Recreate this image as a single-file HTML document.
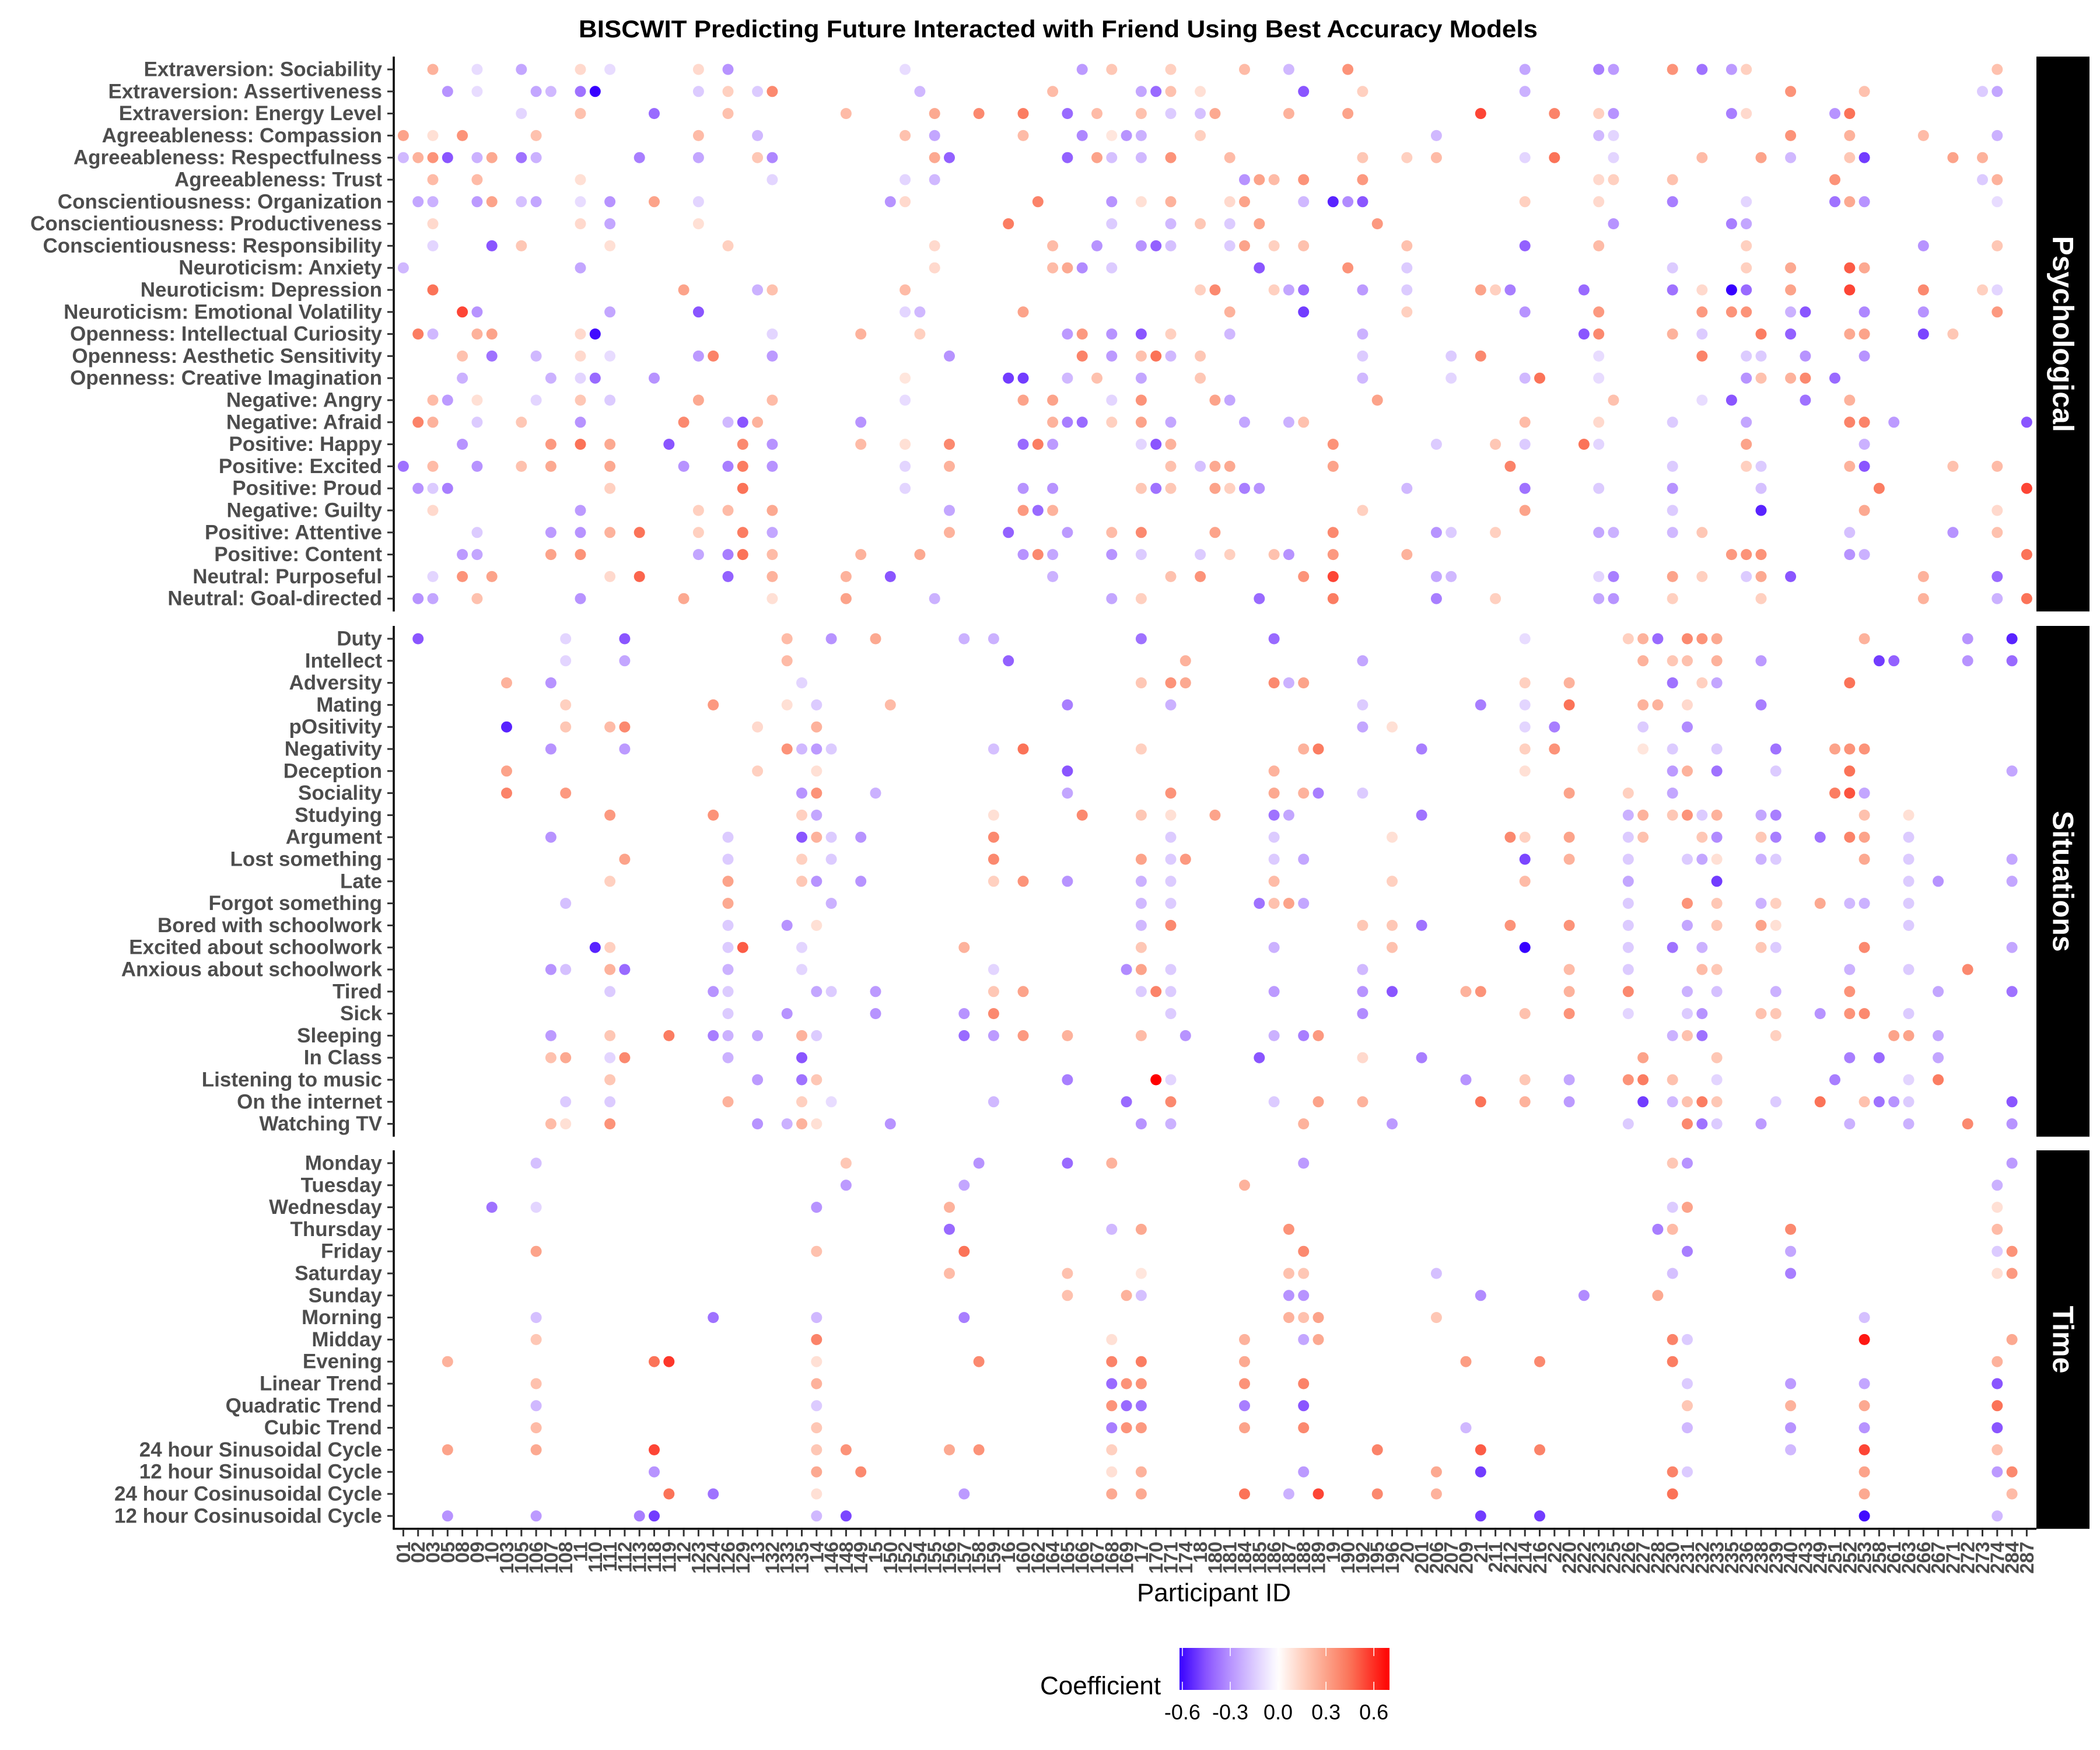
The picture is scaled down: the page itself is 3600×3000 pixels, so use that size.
<!DOCTYPE html>
<html>
<head>
<meta charset="utf-8">
<style>
html,body{margin:0;padding:0;background:#fff;}
svg{display:block;}
text{font-family:"Liberation Sans",Arial,sans-serif;}
</style>
</head>
<body>
<svg id="chart" xmlns="http://www.w3.org/2000/svg" width="3600" height="3000" viewBox="0 0 3600 3000">
  <rect x="0" y="0" width="3600" height="3000" fill="#ffffff"/>
  <text x="1814" y="64" text-anchor="middle" font-size="42" font-weight="bold" fill="#000" textLength="1644" lengthAdjust="spacingAndGlyphs">BISCWIT Predicting Future Interacted with Friend Using Best Accuracy Models</text>
  <g id="panels"></g>
  <g id="xaxis"></g>
  <text x="2081" y="2745" text-anchor="middle" font-size="44" fill="#000">Participant ID</text>
  <g id="legend"></g>
</svg>
<script>
const participantIds = ["01","02","03","05","08","09","10","103","105","106","107","108","11","110","111","112","113","118","119","12","123","124","126","129","13","132","133","135","14","146","148","149","15","150","152","154","155","156","157","158","159","16","160","162","164","165","166","167","168","169","17","170","171","174","18","180","181","184","185","186","187","188","189","19","190","192","195","196","20","201","206","207","209","21","211","212","214","216","22","220","222","223","225","226","227","228","230","231","232","233","235","236","238","239","240","243","249","251","252","253","258","261","263","266","267","271","272","273","274","284","287"];

const psychLabels = ["Extraversion: Sociability","Extraversion: Assertiveness","Extraversion: Energy Level","Agreeableness: Compassion","Agreeableness: Respectfulness","Agreeableness: Trust","Conscientiousness: Organization","Conscientiousness: Productiveness","Conscientiousness: Responsibility","Neuroticism: Anxiety","Neuroticism: Depression","Neuroticism: Emotional Volatility","Openness: Intellectual Curiosity","Openness: Aesthetic Sensitivity","Openness: Creative Imagination","Negative: Angry","Negative: Afraid","Positive: Happy","Positive: Excited","Positive: Proud","Negative: Guilty","Positive: Attentive","Positive: Content","Neutral: Purposeful","Neutral: Goal-directed"];

const psychPoints = [
[[2,.25],[5,-.1],[8,-.25],[12,.12],[14,-.1],[20,.12],[22,-.3],[34,-.1],[46,-.28],[48,.18],[52,.15],[57,.22],[60,-.2],[64,.35],[76,-.25],[81,-.35],[82,-.28],[86,.35],[88,-.38],[90,-.28],[91,.15],[108,.2]],
[[3,-.3],[5,-.1],[9,-.25],[10,-.2],[12,-.38],[13,-.65],[20,-.15],[22,.15],[24,-.15],[25,.38],[35,-.2],[44,.22],[50,-.25],[51,-.4],[52,.2],[54,.1],[61,-.45],[65,.15],[76,-.22],[94,.35],[99,.2],[107,-.15],[108,-.25]],
[[8,-.12],[12,.2],[17,-.4],[22,.2],[30,.22],[36,.28],[39,.38],[42,.42],[45,-.4],[47,.22],[50,.2],[52,-.15],[54,-.18],[55,.28],[60,.25],[64,.3],[73,.55],[78,.4],[81,.15],[82,-.3],[90,-.35],[91,.12],[97,-.3],[98,.45]],
[[0,.3],[2,.1],[4,.35],[9,.2],[20,.22],[24,-.2],[34,.2],[36,-.25],[42,.22],[46,-.33],[48,.08],[49,-.3],[50,-.22],[54,.15],[70,-.2],[81,-.2],[82,-.12],[94,.35],[98,.25],[103,.22],[108,-.22]],
[[0,-.2],[1,.25],[2,.35],[3,-.45],[5,-.22],[6,.28],[8,-.38],[9,-.22],[16,-.35],[20,-.25],[24,.18],[25,-.33],[36,.28],[37,-.42],[45,-.42],[47,.3],[48,-.18],[50,-.2],[52,.35],[56,.22],[65,.18],[68,.15],[70,.22],[76,-.12],[78,.45],[82,-.12],[88,.22],[92,.3],[94,-.2],[98,.18],[99,-.5],[105,.3],[107,.25]],
[[2,.22],[5,.22],[12,.1],[25,-.12],[34,-.12],[36,-.2],[57,-.3],[58,.3],[59,.22],[61,.35],[65,.33],[81,.12],[82,.15],[86,.2],[97,.35],[107,-.15],[108,.25]],
[[1,-.25],[2,-.22],[5,-.28],[6,.3],[8,-.18],[9,-.25],[12,-.1],[14,-.3],[17,.3],[20,-.12],[33,-.3],[34,.12],[43,.4],[48,-.3],[50,.1],[52,.25],[56,.12],[57,.3],[61,-.2],[63,-.55],[64,-.32],[65,-.45],[76,.15],[81,.12],[86,-.35],[91,-.12],[97,-.38],[98,.28],[99,-.3],[108,-.1]],
[[2,.12],[12,.12],[14,-.25],[20,.1],[41,.42],[48,-.15],[52,-.2],[54,.18],[56,-.15],[58,.3],[66,.33],[82,-.3],[90,-.35],[91,-.25]],
[[2,-.12],[6,-.45],[8,.18],[14,.1],[22,.15],[36,.12],[44,.22],[47,-.3],[50,-.3],[51,-.42],[52,-.18],[56,-.15],[57,.3],[59,.15],[61,.2],[68,.2],[76,-.42],[81,.22],[91,.15],[103,-.3],[108,.18]],
[[0,-.2],[12,-.25],[36,.12],[44,.22],[45,.28],[46,-.32],[48,-.15],[58,-.45],[64,.35],[68,-.15],[86,-.15],[91,.15],[94,.28],[98,.5],[99,.28]],
[[2,.45],[19,.3],[24,-.22],[25,.2],[34,.22],[54,.15],[55,.38],[59,.15],[60,-.25],[61,-.4],[65,-.28],[68,-.15],[73,.3],[74,.15],[75,-.35],[80,-.4],[86,-.38],[88,.12],[90,-.62],[91,-.4],[94,.3],[98,.55],[103,.38],[107,.15],[108,-.12]],
[[4,.55],[5,-.3],[14,-.25],[20,-.45],[34,-.12],[35,-.2],[42,.3],[56,.25],[61,-.5],[68,.15],[76,-.3],[81,.33],[88,.33],[90,.35],[91,.35],[94,-.22],[95,-.45],[99,-.33],[103,-.3],[108,.33]],
[[1,.42],[2,-.2],[5,.25],[6,.3],[12,.12],[13,-.6],[25,-.12],[31,.25],[35,.15],[45,-.28],[46,.33],[48,-.3],[50,-.45],[52,.15],[56,-.2],[65,-.22],[80,-.45],[81,.38],[86,.25],[88,-.15],[92,.42],[94,-.42],[98,.28],[99,.3],[103,-.48],[105,.18]],
[[4,.2],[6,-.38],[9,-.2],[12,.12],[14,-.1],[20,-.28],[21,.4],[25,-.28],[37,-.3],[46,.4],[48,-.28],[50,.2],[51,.45],[52,-.2],[54,.18],[65,-.15],[71,-.15],[73,.38],[81,-.1],[88,.4],[91,-.15],[92,-.15],[95,-.3],[99,-.3]],
[[4,-.22],[10,-.22],[12,-.12],[13,-.4],[17,-.3],[34,.08],[41,-.5],[42,-.5],[45,-.2],[47,.2],[50,-.25],[54,.18],[65,-.2],[71,-.12],[76,-.2],[77,.45],[81,-.1],[91,-.3],[92,.2],[94,.25],[95,.38],[97,-.4]],
[[2,.22],[3,-.28],[5,.1],[9,-.12],[12,.18],[14,-.15],[20,.28],[25,.22],[34,-.1],[42,.3],[44,.3],[48,-.12],[50,.35],[55,.3],[56,-.25],[66,.3],[82,.2],[88,-.1],[90,-.45],[95,-.38],[98,.25]],
[[1,.4],[2,.25],[5,-.15],[8,.18],[12,-.3],[19,.38],[22,-.2],[23,-.45],[24,.25],[31,-.3],[44,.25],[45,-.35],[46,-.4],[48,.15],[50,.3],[52,-.25],[57,-.25],[60,-.22],[61,.2],[76,.22],[81,.12],[86,-.15],[91,-.25],[98,.4],[99,.4],[101,-.28],[110,-.45]],
[[4,-.3],[10,.33],[12,.45],[14,.28],[18,-.45],[23,.38],[25,-.3],[31,.22],[34,.1],[37,.38],[42,-.4],[43,.42],[44,-.28],[50,-.12],[51,-.45],[52,.25],[63,.35],[70,-.15],[74,.18],[76,-.15],[80,.45],[81,-.12],[91,.3],[99,-.22]],
[[0,-.38],[2,.22],[5,-.3],[8,.2],[10,.28],[14,.28],[19,-.3],[22,-.35],[23,.42],[25,-.3],[34,-.12],[37,.25],[52,.2],[54,-.18],[55,.28],[56,.28],[63,.3],[75,.4],[86,-.15],[91,.15],[92,-.15],[98,.25],[99,-.45],[105,.2],[108,.22]],
[[1,-.3],[2,-.15],[3,-.35],[14,.15],[23,.45],[34,-.12],[42,-.3],[44,-.3],[50,.18],[51,-.38],[52,.18],[55,.3],[56,.15],[57,-.35],[58,-.3],[68,-.2],[76,-.38],[81,-.15],[86,-.3],[92,-.18],[100,.42],[110,.55]],
[[2,.12],[12,-.28],[20,.15],[22,.22],[25,.28],[37,-.25],[42,.33],[43,-.4],[44,.25],[65,.15],[76,.3],[86,-.15],[92,-.55],[99,.28],[108,.12]],
[[5,-.15],[10,-.28],[12,-.3],[14,.25],[16,.45],[20,.15],[23,.42],[25,-.25],[37,.25],[41,-.42],[45,-.28],[48,.22],[50,.38],[55,.3],[63,.38],[70,-.3],[71,-.15],[74,.15],[81,-.25],[82,-.22],[86,-.2],[88,.18],[98,-.18],[105,-.3],[108,.2]],
[[4,-.28],[5,-.25],[10,.3],[12,.35],[20,-.25],[22,-.35],[23,.45],[25,.22],[31,.25],[35,.28],[42,-.3],[43,.38],[44,-.25],[48,-.3],[50,-.15],[54,-.15],[56,.15],[59,.2],[60,-.3],[63,.33],[68,.25],[90,.33],[91,.35],[92,.35],[98,-.3],[99,-.22],[110,.45]],
[[2,-.12],[4,.35],[6,.3],[14,.12],[16,.48],[22,-.42],[25,.25],[30,.25],[33,-.45],[44,-.22],[52,.2],[54,.35],[61,.35],[63,.55],[70,-.25],[71,-.2],[81,-.12],[82,-.35],[86,.3],[88,.15],[91,-.15],[92,.28],[94,-.45],[103,.25],[108,-.4]],
[[1,-.3],[2,-.25],[5,.2],[12,-.3],[19,.28],[25,.1],[30,.3],[36,-.22],[48,-.25],[50,.15],[58,-.4],[63,.42],[70,-.35],[74,.15],[81,-.25],[82,-.3],[86,.15],[92,.15],[103,.25],[108,-.22],[110,.45]]
];

const situationLabels = ["Duty","Intellect","Adversity","Mating","pOsitivity","Negativity","Deception","Sociality","Studying","Argument","Lost something","Late","Forgot something","Bored with schoolwork","Excited about schoolwork","Anxious about schoolwork","Tired","Sick","Sleeping","In Class","Listening to music","On the internet","Watching TV"];

const situationPoints = [
[[1,-.45],[11,-.12],[15,-.45],[26,.22],[29,-.3],[32,.28],[38,-.22],[40,-.22],[50,-.38],[59,-.4],[76,-.1],[83,.15],[84,.25],[85,-.4],[87,.38],[88,.35],[89,.28],[99,.25],[106,-.3],[109,-.55]],
[[11,-.12],[15,-.25],[26,.22],[41,-.42],[53,.25],[65,-.25],[84,.25],[86,.18],[87,.2],[89,.25],[92,-.28],[100,-.5],[101,-.42],[106,-.3],[109,-.4]],
[[7,.25],[10,-.3],[27,-.12],[50,.18],[52,.35],[53,.28],[59,.38],[60,-.22],[61,.3],[76,.15],[79,.25],[86,-.38],[88,.15],[89,-.25],[98,.45]],
[[11,.15],[21,.33],[26,.1],[28,-.15],[33,.22],[45,-.35],[52,-.22],[65,-.15],[73,-.35],[76,-.12],[79,.45],[84,.25],[85,.25],[87,.12],[92,-.35]],
[[7,-.55],[11,.18],[14,.22],[15,.38],[24,.12],[28,.25],[65,-.25],[67,.1],[76,-.12],[78,-.35],[84,-.15],[87,-.32]],
[[10,-.3],[15,-.28],[26,.35],[27,-.2],[28,-.28],[29,-.15],[40,-.18],[42,.45],[50,.15],[61,.25],[62,.42],[69,-.35],[76,.15],[78,.35],[84,.08],[86,-.15],[89,-.15],[93,-.38],[97,.3],[98,.35],[99,.35]],
[[7,.3],[24,.15],[28,.1],[45,-.45],[59,.25],[76,.1],[86,-.28],[87,.25],[89,-.38],[93,-.15],[98,.45],[109,-.25]],
[[7,.4],[11,.33],[27,-.3],[28,.35],[32,-.22],[45,-.25],[52,.35],[59,.28],[61,.25],[62,-.35],[65,-.15],[79,.3],[83,.15],[86,-.25],[97,.42],[98,.52],[99,-.25]],
[[14,.33],[21,.35],[27,.15],[28,-.25],[40,.1],[46,.38],[50,.18],[52,.1],[55,.3],[59,-.38],[60,-.25],[69,-.38],[83,-.22],[84,.25],[86,.18],[87,.35],[88,-.15],[89,.25],[92,-.25],[93,-.35],[99,.2],[102,.1]],
[[10,-.3],[22,-.15],[27,-.45],[28,.25],[29,-.15],[31,-.3],[40,.38],[52,-.15],[59,-.15],[67,.1],[75,.38],[76,.15],[79,.3],[83,-.15],[84,.2],[88,.18],[89,-.32],[92,.18],[93,-.35],[96,-.38],[98,.4],[99,.3],[102,-.15]],
[[15,.3],[22,-.15],[27,.15],[29,-.15],[40,.38],[50,.3],[52,-.15],[53,.33],[59,-.15],[61,-.25],[76,-.48],[79,.25],[83,-.15],[87,-.15],[88,-.25],[89,.1],[92,-.22],[93,-.15],[99,.28],[102,-.15],[109,-.25]],
[[14,.15],[22,.3],[27,.18],[28,-.3],[31,-.3],[40,.15],[42,.35],[45,-.3],[50,-.22],[52,-.15],[59,.22],[67,.15],[76,.22],[83,-.25],[89,-.5],[102,-.15],[104,-.3],[109,-.25]],
[[11,-.18],[22,.28],[29,-.22],[50,-.2],[52,-.15],[58,-.38],[59,.2],[60,.3],[61,-.25],[83,-.15],[87,.35],[89,.18],[92,-.22],[93,.15],[96,.28],[98,-.2],[99,-.22],[102,-.15]],
[[22,-.15],[26,-.3],[28,.1],[50,-.2],[52,.38],[65,.18],[67,.18],[69,-.38],[75,.35],[79,.35],[83,-.15],[87,-.25],[89,.18],[92,.3],[93,.1],[102,-.15]],
[[13,-.55],[14,.15],[22,-.15],[23,.5],[27,-.12],[38,.25],[50,.18],[59,-.22],[67,.2],[76,-.65],[83,-.15],[86,-.38],[88,-.22],[92,.18],[93,-.15],[99,.38],[109,-.25]],
[[10,-.3],[11,-.18],[14,.25],[15,-.4],[22,-.22],[27,-.12],[40,-.12],[49,-.32],[50,.3],[52,-.15],[65,-.2],[79,.22],[83,-.15],[88,.22],[89,.18],[98,-.22],[102,-.15],[106,.38]],
[[14,-.15],[21,-.3],[22,-.15],[28,-.25],[29,-.15],[32,-.28],[40,.18],[42,.3],[50,-.15],[51,.4],[52,-.15],[59,-.28],[65,-.3],[67,-.45],[72,.25],[73,.35],[79,.25],[83,.38],[87,-.22],[89,-.18],[93,-.22],[98,.35],[104,-.25],[109,-.38]],
[[22,-.15],[26,-.3],[32,-.3],[38,-.3],[40,.38],[52,-.15],[65,-.32],[76,.2],[79,.35],[83,-.12],[87,-.15],[88,-.3],[92,.2],[93,.18],[96,-.3],[98,.35],[99,.38],[102,-.15]],
[[10,-.28],[14,.18],[18,.42],[21,-.35],[22,-.22],[24,-.25],[27,.25],[28,-.15],[38,-.4],[40,-.28],[42,.33],[45,.25],[50,.22],[53,-.3],[59,-.22],[61,-.35],[62,.33],[86,-.22],[87,.2],[88,-.38],[93,.15],[101,.3],[102,.3],[104,-.25]],
[[10,.2],[11,.28],[14,-.12],[15,.38],[22,-.22],[27,-.45],[58,-.45],[65,.12],[69,-.35],[84,.3],[89,.18],[98,-.35],[100,-.4],[104,-.25]],
[[14,.18],[24,-.28],[27,-.38],[28,.18],[45,-.35],[51,.72],[52,-.12],[72,-.3],[76,.18],[79,-.25],[83,.35],[84,.42],[86,.2],[89,-.12],[97,-.35],[102,-.12],[104,.42]],
[[11,-.15],[14,-.15],[22,.25],[27,.15],[29,-.1],[40,-.2],[49,-.4],[52,.38],[59,-.15],[62,.3],[65,.25],[73,.45],[76,.25],[79,-.28],[84,-.5],[86,-.2],[87,.2],[88,.42],[89,.18],[93,-.15],[96,.45],[99,.2],[100,-.38],[101,-.3],[102,-.15],[109,-.45]],
[[10,.22],[11,.1],[14,.35],[24,-.3],[26,-.22],[27,.25],[28,.1],[33,-.3],[50,-.3],[52,-.22],[61,.25],[67,-.28],[83,-.15],[87,.38],[88,-.38],[89,-.15],[92,-.28],[98,-.22],[102,-.22],[106,.38],[109,-.3]]
];

const timeLabels = ["Monday","Tuesday","Wednesday","Thursday","Friday","Saturday","Sunday","Morning","Midday","Evening","Linear Trend","Quadratic Trend","Cubic Trend","24 hour Sinusoidal Cycle","12 hour Sinusoidal Cycle","24 hour Cosinusoidal Cycle","12 hour Cosinusoidal Cycle"];

const timePoints = [
[[9,-.18],[30,.18],[39,-.3],[45,-.4],[48,.25],[61,-.28],[86,.18],[87,-.3],[109,-.28]],
[[30,-.28],[38,-.25],[57,.25],[108,-.22]],
[[6,-.38],[9,-.12],[28,-.3],[37,.25],[86,-.15],[87,.3],[108,.1]],
[[37,-.4],[48,-.2],[50,.28],[60,.35],[85,-.35],[86,.22],[94,.38],[108,.22]],
[[9,.3],[28,.2],[38,.45],[61,.38],[87,-.35],[94,-.25],[108,-.15],[109,.35]],
[[37,.22],[45,.2],[50,.08],[60,.2],[61,.18],[70,-.18],[86,-.18],[94,-.35],[108,.1],[109,.33]],
[[45,.2],[49,.25],[50,-.18],[60,-.3],[61,-.3],[73,-.32],[80,-.32],[85,.28]],
[[9,-.18],[21,-.38],[28,-.2],[38,-.35],[60,.25],[61,.2],[62,.3],[70,.18],[99,-.18]],
[[9,.18],[28,.4],[48,.1],[57,.25],[61,-.25],[62,.28],[86,.4],[87,-.15],[99,.65],[109,.28]],
[[3,.25],[17,.45],[18,.58],[28,.1],[39,.38],[48,.4],[50,.42],[57,.28],[72,.32],[77,.38],[86,.42],[108,.25]],
[[9,.2],[28,.25],[48,-.4],[49,.35],[50,.35],[57,.35],[61,.4],[87,-.15],[94,-.28],[99,-.25],[108,-.45]],
[[9,-.2],[28,-.15],[48,.35],[49,-.4],[50,-.38],[57,-.35],[61,-.45],[87,.18],[94,.25],[99,.28],[108,.45]],
[[9,.22],[28,.18],[48,-.35],[49,.35],[50,.33],[57,.3],[61,.38],[72,-.2],[87,-.2],[94,-.3],[99,-.3],[108,-.45]],
[[3,.3],[9,.28],[17,.55],[28,.18],[30,.35],[37,.28],[39,.35],[48,.15],[66,.4],[73,.5],[77,.4],[94,-.2],[99,.55],[108,.2]],
[[17,-.3],[28,.28],[31,.38],[48,.1],[50,.25],[61,-.28],[70,.28],[73,-.5],[86,.4],[87,-.15],[99,.3],[108,-.28],[109,.38]],
[[18,.45],[21,-.38],[28,.1],[38,-.28],[48,.28],[50,.28],[57,.45],[60,-.22],[62,.55],[66,.38],[70,.25],[86,.45],[99,.28],[109,.22]],
[[3,-.3],[9,-.28],[16,-.35],[17,-.5],[28,-.2],[30,-.48],[73,-.5],[77,-.5],[99,-.6],[108,-.2]]
];

const legendTicks = [-0.6,-0.3,0.0,0.3,0.6];
const legendTickLabels = ["-0.6","-0.3","0.0","0.3","0.6"];

const NS = "http://www.w3.org/2000/svg";
const X0 = 691.4, XSTEP = 25.3, AXIS_X = 675, PLOT_R = 3491, ROWSTEP = 37.8, PAD = 22;
function xScale(c){ return X0 + XSTEP * c; }

const stops = [[-0.62,[55,0,255]],[-0.45,[138,85,255]],[-0.3,[183,147,255]],[-0.15,[220,203,255]],[0,[255,255,255]],[0.15,[255,208,192]],[0.3,[252,163,138]],[0.45,[251,115,88]],[0.7,[255,0,0]]];
function colorScale(v){
  if(v<=stops[0][0]) return "rgb("+stops[0][1].join(",")+")";
  for(let i=1;i<stops.length;i++){
    if(v<=stops[i][0]){
      const a=stops[i-1], b=stops[i], t=(v-a[0])/(b[0]-a[0]);
      const c=a[1].map((x,k)=>Math.round(x+(b[1][k]-x)*t));
      return "rgb("+c.join(",")+")";
    }
  }
  return "rgb(255,0,0)";
}
function mk(tag, attrs){ const e=document.createElementNS(NS,tag); for(const k in attrs) e.setAttribute(k, attrs[k]); return e; }

const panelsG = document.getElementById("panels");
const panels = [
  {name:"psychological", title:"Psychological", top:97, labels:psychLabels, points:psychPoints},
  {name:"situations", title:"Situations", top:1073, labels:situationLabels, points:situationPoints},
  {name:"time", title:"Time", top:1972, labels:timeLabels, points:timePoints}
];
let lastBottom = 0;
panels.forEach(p=>{
  const g = mk("g",{});
  
  
  panelsG.appendChild(g);
  const n = p.labels.length;
  const bottom = p.top + PAD*2 + (n-1)*ROWSTEP;
  lastBottom = bottom;
  const yRow = r => p.top + PAD + r*ROWSTEP;
  const axis = mk("line",{x1:AXIS_X,y1:p.top,x2:AXIS_X,y2:bottom,stroke:"#000","stroke-width":3.5});
  
  
  g.appendChild(axis);
  p.labels.forEach((lab,r)=>{
    const y = yRow(r);
    const tk = mk("line",{x1:664,y1:y,x2:AXIS_X,y2:y,stroke:"#333","stroke-width":3});
    
    
    g.appendChild(tk);
    const t = mk("text",{x:655,y:y,"text-anchor":"end","dominant-baseline":"central","font-size":35,"font-weight":"bold",fill:"#4D4D4D"});
    t.textContent = lab;
    
    
    g.appendChild(t);
  });
  p.points.forEach((row,r)=>{
    row.forEach(pt=>{
      const c = mk("circle",{cx:xScale(pt[0]),cy:yRow(r),r:9.5,fill:colorScale(pt[1])});
      
      
      g.appendChild(c);
    });
  });
  const strip = mk("rect",{x:PLOT_R,y:p.top,width:91,height:bottom-p.top,fill:"#000"});
  
  
  g.appendChild(strip);
  const cx = PLOT_R+45.5, cy=(p.top+bottom)/2;
  const st = mk("text",{x:cx,y:cy,"text-anchor":"middle","dominant-baseline":"central","font-size":50,"font-weight":"bold",fill:"#fff",transform:"rotate(90 "+cx+" "+cy+")"});
  st.textContent = p.title;
  
  
  g.appendChild(st);
});

const xg = document.getElementById("xaxis");
const axisY = lastBottom;
const xl = mk("line",{x1:AXIS_X-1.75,y1:axisY,x2:PLOT_R,y2:axisY,stroke:"#000","stroke-width":3.5});


xg.appendChild(xl);
participantIds.forEach((id,i)=>{
  const x = xScale(i);
  const tk = mk("line",{x1:x,y1:axisY,x2:x,y2:axisY+13,stroke:"#333","stroke-width":3});
  
  
  xg.appendChild(tk);
  const ly = axisY + 22;
  const t = mk("text",{x:x,y:ly,"text-anchor":"end","dominant-baseline":"central","font-size":33,"font-weight":"bold",fill:"#4D4D4D",transform:"rotate(-90 "+x+" "+ly+")"});
  t.textContent = id;
  
  
  xg.appendChild(t);
});

const lg = document.getElementById("legend");
const BAR_X0 = 2022, BAR_X1 = 2382, BAR_Y0 = 2825, BAR_Y1 = 2897, VMIN = -0.618, VMAX = 0.698;
const legX = v => BAR_X0 + (v - VMIN)/(VMAX - VMIN)*(BAR_X1 - BAR_X0);
const defs = mk("defs",{});
const grad = mk("linearGradient",{id:"cbar",x1:"0",y1:"0",x2:"1",y2:"0"});
for(let k=0;k<=40;k++){
  const v = VMIN + (VMAX-VMIN)*k/40;
  grad.appendChild(mk("stop",{offset:(k/40).toFixed(3),"stop-color":colorScale(v)}));
}
defs.appendChild(grad);
lg.appendChild(defs);
const lt = mk("text",{x:1783,y:2890,"dominant-baseline":"central","font-size":44,fill:"#000"});
lt.textContent = "Coefficient";


lg.appendChild(lt);
const bar = mk("rect",{x:BAR_X0,y:BAR_Y0,width:BAR_X1-BAR_X0,height:BAR_Y1-BAR_Y0,fill:"url(#cbar)"});


lg.appendChild(bar);
legendTicks.forEach((v,i)=>{
  const x = legX(v);
  const t1 = mk("line",{x1:x,y1:BAR_Y0,x2:x,y2:BAR_Y0+14,stroke:"#fff","stroke-width":1.5});
  
  
  lg.appendChild(t1);
  const t2 = mk("line",{x1:x,y1:BAR_Y1-14,x2:x,y2:BAR_Y1,stroke:"#fff","stroke-width":1.5});
  
  
  lg.appendChild(t2);
  const tl = mk("text",{x:x,y:2935,"text-anchor":"middle","dominant-baseline":"central","font-size":36,fill:"#000"});
  tl.textContent = legendTickLabels[i];
  
  
  lg.appendChild(tl);
});
</script>
</body>
</html>
